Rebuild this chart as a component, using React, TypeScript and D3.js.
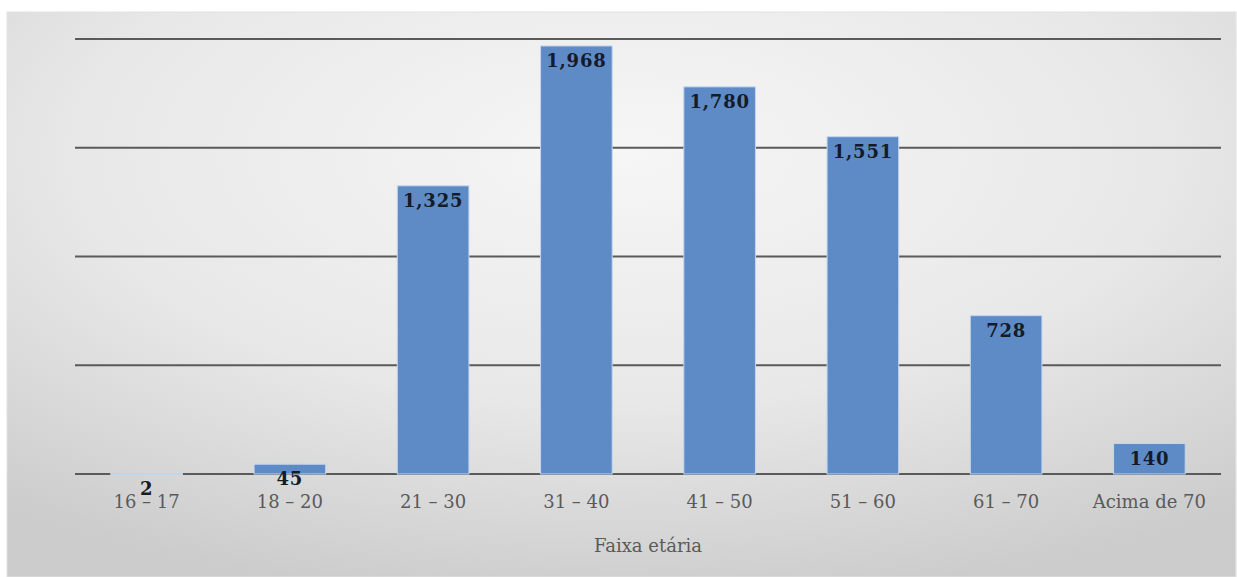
import React from "react";
import * as d3 from "d3";

const categories = ["16 – 17", "18 – 20", "21 – 30", "31 – 40", "41 – 50", "51 – 60", "61 – 70", "Acima de 70"];
const values = [2, 45, 1325, 1968, 1780, 1551, 728, 140];
const gridTicks = [0, 500, 1000, 1500, 2000];
const axisTitle = "Faixa etária";

const width = 1237;
const height = 577;
const margin = { top: 39, right: 16, bottom: 103, left: 75 };

const App = () => {
  const innerW = width - margin.left - margin.right;
  const innerH = height - margin.top - margin.bottom;

  const x = d3.scaleBand().domain(categories).range([0, innerW]).paddingInner(0.5).paddingOuter(0.25);
  const y = d3.scaleLinear().domain([0, 2000]).range([innerH, 0]);
  const fmt = d3.format(",");

  return (
    <svg
      width={width}
      height={height}
      style={{ position: "absolute", left: 0, top: 0, display: "block" }}
    >
      <defs>
        <radialGradient id="bg" cx="50%" cy="25%" r="80%">
          <stop offset="0%" stopColor="#f6f6f6" />
          <stop offset="55%" stopColor="#e8e8e8" />
          <stop offset="100%" stopColor="#cccccc" />
        </radialGradient>
      </defs>
      <rect x={0} y={0} width={width} height={height} fill="#ffffff" />
      <rect x={7} y={12} width={1229} height={565} fill="url(#bg)" stroke="#e2e2e2" strokeWidth={1} />
      <g transform={`translate(${margin.left},${margin.top})`}>
        {gridTicks.map((t) => (
          <line key={t} x1={0} x2={innerW} y1={y(t)} y2={y(t)} stroke="#5a5a5a" strokeWidth={2} />
        ))}
        {values.map((v, i) => (
          <rect
            key={categories[i]}
            x={x(categories[i])}
            y={y(v)}
            width={x.bandwidth()}
            height={Math.max(innerH - y(v), 1)}
            fill={v < 10 ? "#e8eef6" : "#5e8bc6"}
            stroke="#c4d6ee"
            strokeWidth={1}
          />
        ))}
        {values.map((v, i) => (
          <text
            key={"l" + i}
            x={(x(categories[i]) as number) + x.bandwidth() / 2}
            y={y(v) + 21}
            textAnchor="middle"
            fontFamily="'DejaVu Serif', serif"
            fontWeight="bold"
            fontSize={18}
            letterSpacing={0.8}
            fill="#141b2a"
          >
            {fmt(v)}
          </text>
        ))}
        {categories.map((c) => (
          <text
            key={"c" + c}
            x={(x(c) as number) + x.bandwidth() / 2}
            y={innerH + 34}
            textAnchor="middle"
            fontFamily="'DejaVu Serif', serif"
            fontSize={18}
            fill="#5a5a5a"
          >
            {c}
          </text>
        ))}
        <text
          x={innerW / 2}
          y={innerH + 78}
          textAnchor="middle"
          fontFamily="'DejaVu Serif', serif"
          fontSize={18}
          fill="#5a5a5a"
        >
          {axisTitle}
        </text>
      </g>
    </svg>
  );
};

export default App;
